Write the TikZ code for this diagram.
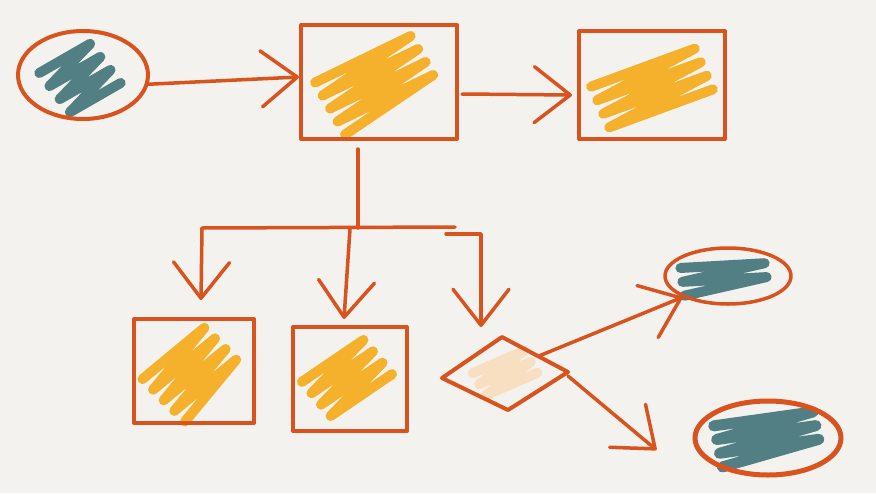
\documentclass[tikz,border=0pt]{standalone}
\usetikzlibrary{arrows.meta,calc,shapes.geometric}
\definecolor{bg}{HTML}{F4F2EE}
\definecolor{org}{HTML}{D9531E}
\definecolor{yel}{HTML}{F5B12B}
\definecolor{tea}{HTML}{527F84}
\definecolor{pea}{HTML}{F8DFC2}
\tikzset{
  outl/.style={draw=org,line width=4pt,line join=round,line cap=round,inner sep=0pt},
  conn/.style={draw=org,line width=3.5pt,line cap=round,line join=round},
  arr/.style={conn,-{Straight Barb[length=36pt,width=56pt,round]}},
  scrib/.style={line cap=round,line join=round},
}
\newcommand\myscribble[8]{%
  \begin{scope}[shift={(#1,#2)},rotate=#3]
    \draw[scrib,draw=#7,line width=#8] (-#4/2,-#5/2)
      \foreach \i in {1,...,#6}{ -- ({ifthenelse(mod(\i,2)==1,1,-1)*#4/2},{-#5/2+\i*#5/#6}) };
  \end{scope}}
\begin{document}
\begin{tikzpicture}[x=1pt,y=-1pt]
\fill[bg] (0,0) rectangle (876,493);
\useasboundingbox (0,0) rectangle (876,493);

% scribbles
\myscribble{80}{78}{38}{58}{58}{7}{tea}{10pt}
\myscribble{376}{82}{30}{106}{60}{8}{yel}{10pt}
\myscribble{652}{88}{24}{110}{52}{7}{yel}{10pt}
\myscribble{192}{372}{45}{80}{60}{8}{yel}{10pt}
\myscribble{347}{378}{40}{74}{52}{7}{yel}{10pt}
\myscribble{505}{373}{30}{56}{32}{5}{pea}{10pt}
\myscribble{724}{276}{8}{84}{28}{4}{tea}{10pt}
\myscribble{767}{436}{12}{100}{42}{6}{tea}{11pt}

% shapes
\node[outl,ellipse,minimum width=130pt,minimum height=88pt] (e1) at (83,75) {};
\node[outl,rectangle,minimum width=156pt,minimum height=114pt] (b1) at (379,82) {};
\node[outl,rectangle,minimum width=146pt,minimum height=108pt] (b2) at (652,85) {};
\node[outl,rectangle,minimum width=120pt,minimum height=104pt] (b3) at (194,371) {};
\node[outl,rectangle,minimum width=114pt,minimum height=104pt] (b4) at (350,379) {};
\node[outl,ellipse,line width=3.5pt,minimum width=126pt,minimum height=56pt] (e2) at (728,276) {};
\node[outl,ellipse,line width=5pt,minimum width=146pt,minimum height=74pt] (e3) at (768,438) {};
\coordinate (dt) at (502,337);
\coordinate (dr) at (568,372);
\coordinate (db) at (508,410);
\coordinate (dl) at (442,378);
\node[inner sep=0pt] (dia) at (505,373) {};
\draw[outl] (dl) -- (dt) -- (dr) -- (db) -- cycle;

% junction coordinates
\coordinate (j) at (358,228);
\coordinate (bl) at (202,228);
\coordinate (br) at (455,227);
\coordinate (bm) at (350,229);
\coordinate (rb) at (446,234);

% connectors
\draw[arr] (e1.-8) -- ($(b1.west)+(0,-5)$);
\draw[arr] ($(b1.east)+(3,12)$) -- ($(b2.west)+(-5,10)$);
\draw[conn] ($(b1.south -| j)+(0,8)$) -- (j);
\draw[conn] (bl) -- (br);
\draw[arr] (bl) -- ($(b3.north)+(7,-17)$);
\draw[arr] (bm) -- ($(b4.north)+(-6,-6)$);
\draw[arr] (rb) -| ($(dt)+(-21,-10)$);
\draw[arr] ($(dt)!0.55!(dr)$) -- (e2.205);
\draw[arr] ($(dr)+(0,4)$) -- ($(e3.west)+(-36,12)$);
\end{tikzpicture}
\end{document}
